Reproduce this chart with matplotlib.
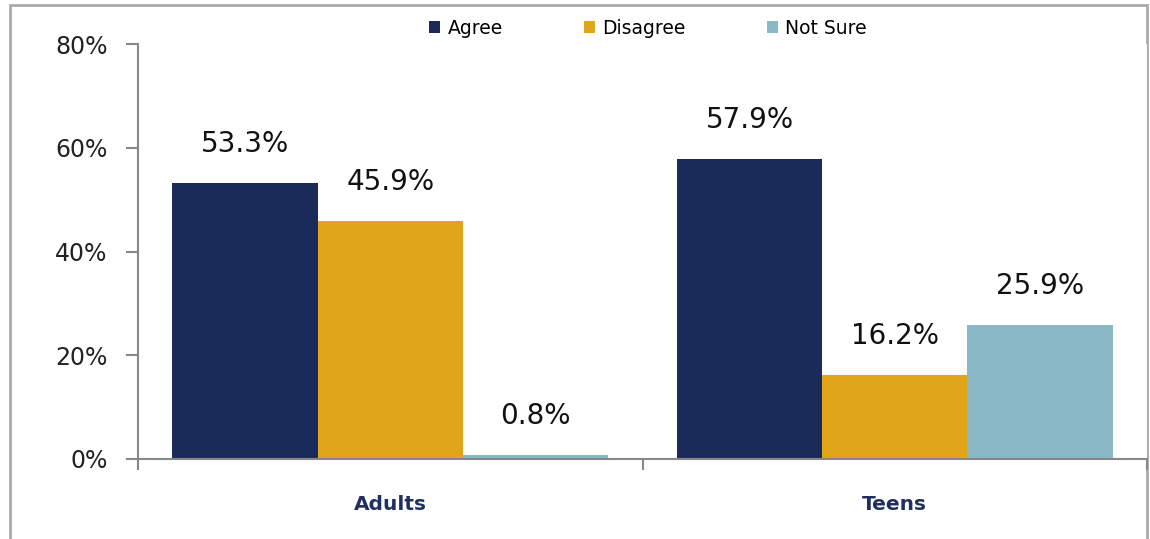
import matplotlib
matplotlib.use("Agg")
import matplotlib.pyplot as plt
from matplotlib.patches import Patch, Rectangle
import numpy as np

groups = ["Adults", "Teens"]
series = ["Agree", "Disagree", "Not Sure"]
agree = [53.3, 57.9]
disagree = [45.9, 16.2]
not_sure = [0.8, 25.9]
yticks = [0, 20, 40, 60, 80]

colors = ["#1a2b5a", "#e0a519", "#8ab8c6"]
axis_gray = "#888888"

plt.rcParams['font.family'] = ['DejaVu Sans']

fig = plt.figure(figsize=(11.5, 5.39), dpi=100)
ax = fig.add_axes([138 / 1150, 1 - 459 / 539, (1147 - 138) / 1150, (459 - 44) / 539])

x = np.arange(len(groups))
w = 0.288
for i, (name, vals) in enumerate(zip(series, [agree, disagree, not_sure])):
    pos = x + (i - 1) * w
    ax.bar(pos, vals, width=w, color=colors[i], linewidth=0, zorder=2)
    for px, v in zip(pos, vals):
        ax.annotate(f"{v:.1f}%", (px, v), xytext=(0, 18), textcoords="offset points",
                    ha="center", va="bottom", fontsize=20, color="#111111")

ax.set_xlim(-0.5, 1.5)
ax.set_ylim(0, 80)
ax.set_yticks(yticks)
ax.set_yticklabels([f"{t}%" for t in yticks], fontsize=17, color="#222222")
ax.tick_params(axis="y", length=9, width=1.5, color=axis_gray, pad=13)

ax.set_xticks([-0.5, 0.5, 1.5])
ax.set_xticklabels(["", "", ""])
ax.tick_params(axis="x", which="major", length=8, width=1.5, color=axis_gray, direction="out")
ax.set_xticks(x, minor=True)
ax.set_xticklabels(groups, minor=True, fontsize=14.5, fontweight="bold", color="#1f3060")
ax.tick_params(axis="x", which="minor", length=0, pad=26)

for s in ["top", "right"]:
    ax.spines[s].set_visible(False)
for s in ["left", "bottom"]:
    ax.spines[s].set_color(axis_gray)
    ax.spines[s].set_linewidth(1.5)

handles = [Patch(facecolor=c, edgecolor="none") for c in colors]
fig.legend(handles, series, loc="center", bbox_to_anchor=(648 / 1150, 1 - 28 / 539),
           ncol=3, frameon=False, fontsize=13.5, handlelength=0.6, handleheight=0.6,
           handletextpad=0.4, columnspacing=4.3, borderpad=0)

fig.add_artist(Rectangle((10 / 1150, -0.05), (1147 - 10) / 1150, 1.05 - 5 / 539,
                         transform=fig.transFigure, fill=False, edgecolor="#aaaaaa",
                         linewidth=2, zorder=0))

fig.savefig("out.png", dpi=100)
